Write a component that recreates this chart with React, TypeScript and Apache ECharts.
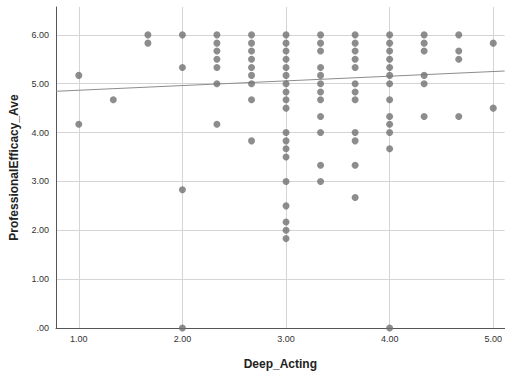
import React, { useEffect, useRef } from "react";
import * as echarts from "echarts";

// Deep_Acting levels (x) and ProfessionalEfficacy_Ave values (y) observed at each level
const deepActingLevels = [1.0, 1.333, 1.667, 2.0, 2.333, 2.667, 3.0, 3.333, 3.667, 4.0, 4.333, 4.667, 5.0];
const efficacyAt100 = [5.17, 4.17];
const efficacyAt133 = [4.67];
const efficacyAt167 = [6.0, 5.83];
const efficacyAt200 = [6.0, 5.33, 2.83, 0.0];
const efficacyAt233 = [6.0, 5.83, 5.67, 5.5, 5.33, 5.0, 4.17];
const efficacyAt267 = [6.0, 5.83, 5.67, 5.5, 5.33, 5.17, 5.0, 4.67, 3.83];
const efficacyAt300 = [6.0, 5.83, 5.67, 5.5, 5.33, 5.17, 5.0, 4.83, 4.67, 4.5, 4.0, 3.83, 3.67, 3.5, 3.0, 2.5, 2.17, 2.0, 1.83];
const efficacyAt333 = [6.0, 5.83, 5.67, 5.33, 5.17, 5.0, 4.83, 4.67, 4.33, 4.0, 3.33, 3.0];
const efficacyAt367 = [6.0, 5.83, 5.67, 5.5, 5.33, 5.0, 4.83, 4.67, 4.0, 3.83, 3.33, 2.67];
const efficacyAt400 = [6.0, 5.83, 5.67, 5.5, 5.33, 5.17, 5.0, 4.67, 4.33, 4.17, 4.0, 3.67, 0.0];
const efficacyAt433 = [6.0, 5.83, 5.67, 5.17, 5.0, 4.33];
const efficacyAt467 = [6.0, 5.67, 5.5, 4.33];
const efficacyAt500 = [5.83, 4.5];

const efficacyByLevel = [
  efficacyAt100, efficacyAt133, efficacyAt167, efficacyAt200, efficacyAt233, efficacyAt267,
  efficacyAt300, efficacyAt333, efficacyAt367, efficacyAt400, efficacyAt433, efficacyAt467, efficacyAt500,
];

// Fit line endpoints (x, y)
const fitX = [0.78, 5.11];
const fitY = [4.845, 5.26];

const xTicks = [1, 2, 3, 4, 5];
const yTicks = [0, 1, 2, 3, 4, 5, 6];

export default function App() {
  const ref = useRef<HTMLDivElement>(null);
  useEffect(() => {
    if (!ref.current) return;
    const chart = echarts.init(ref.current, null, { renderer: "svg" });
    const points: number[][] = [];
    deepActingLevels.forEach((x, i) => {
      efficacyByLevel[i].forEach((y) => points.push([x, y]));
    });
    const fmt = (v: number) => (v === 0 ? ".00" : v.toFixed(2));
    chart.setOption({
      animation: false,
      grid: { left: 55, top: 7, right: 0, bottom: 43, containLabel: false },
      xAxis: {
        type: "value",
        min: 0.78,
        max: 5.11,
        name: "Deep_Acting",
        nameLocation: "middle",
        nameGap: 30,
        nameTextStyle: { fontFamily: "Liberation Sans, Arial", fontWeight: "bold", fontSize: 12, color: "#222" },
        axisLine: { show: true, onZero: false, lineStyle: { color: "#555", width: 1 } },
        axisTick: { show: false, customValues: xTicks },
        axisLabel: {
          customValues: xTicks,
          formatter: fmt,
          fontFamily: "Liberation Sans, Arial",
          fontSize: 9,
          color: "#333",
          margin: 6,
        },
        splitLine: { show: true, lineStyle: { color: "#d4d4d4", width: 1 } },
      },
      yAxis: {
        type: "value",
        min: 0,
        max: 6.57,
        name: "ProfessionalEfficacy_Ave",
        nameLocation: "middle",
        nameGap: 36,
        nameTextStyle: { fontFamily: "Liberation Sans, Arial", fontWeight: "bold", fontSize: 12, color: "#222" },
        axisLine: { show: true, onZero: false, lineStyle: { color: "#555", width: 1 } },
        axisTick: { show: false, customValues: yTicks },
        axisLabel: {
          customValues: yTicks,
          formatter: fmt,
          fontFamily: "Liberation Sans, Arial",
          fontSize: 9,
          color: "#333",
          margin: 7,
        },
        splitLine: { show: true, lineStyle: { color: "#d4d4d4", width: 1 } },
      },
      series: [
        {
          type: "line",
          data: [[fitX[0], fitY[0]], [fitX[1], fitY[1]]],
          symbol: "none",
          lineStyle: { color: "#8c8c8c", width: 1 },
          silent: true,
          z: 1,
        },
        {
          type: "scatter",
          data: points,
          symbolSize: 7,
          itemStyle: { color: "#707070" },
          z: 2,
        },
      ],
    });
    return () => chart.dispose();
  }, []);
  return <div ref={ref} style={{ width: 505, height: 375, position: "absolute", left: 0, top: 0, background: "#fff" }} />;
}
